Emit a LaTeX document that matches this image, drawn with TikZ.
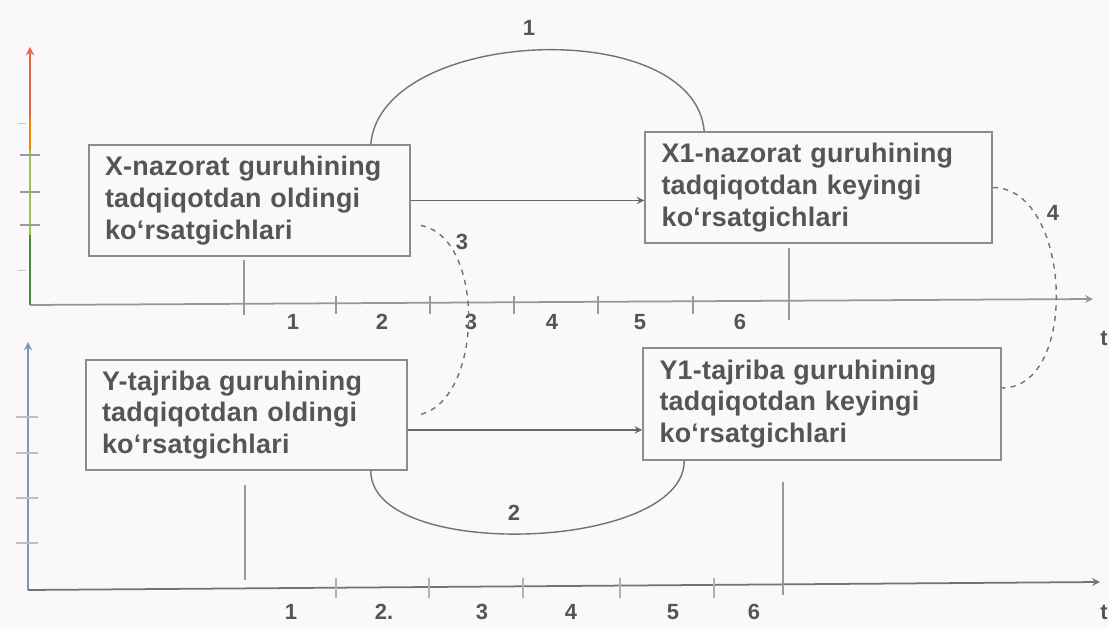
\documentclass[tikz,border=0pt]{standalone}
\usepackage{fontspec}
\setmainfont{Liberation Sans}
\newfontfamily\boxfont[LetterSpace=1]{Liberation Sans}
\definecolor{paper}{HTML}{FAF8FA}
\definecolor{ink}{HTML}{555555}
\definecolor{frame}{HTML}{8C8C8C}
\definecolor{axisup}{HTML}{8E9C92}
\definecolor{axislow}{HTML}{7F96B0}

\begin{document}
\begin{tikzpicture}[x=0.02cm,y=-0.02cm,>=stealth,
    box/.style={draw=frame,line width=0.9pt,inner xsep=0.32cm,align=left,text=ink,
      font=\boxfont\bfseries\fontsize{15.3}{18}\selectfont},
    lbl/.style={text=ink,font=\bfseries\fontsize{12.5}{14}\selectfont},
    arc/.style={black!55,line width=0.8pt},
    tick/.style={black!40,line width=0.8pt}]
\useasboundingbox[fill=paper] (0,0) rectangle (1109,628);

% axes
\coordinate (o1) at (30,305);
\coordinate (o2) at (28,590);
\draw[->,axisup,line width=1pt] (o1) -- (1093,299);
\draw[line width=1.1pt,black!40!green!50!gray] (o1) -- (30,235);
\draw[line width=1.1pt,yellow!60!green!70!gray] (30,235) -- (30,150);
\draw[line width=1.1pt,orange!80!brown] (30,150) -- (30,118);
\draw[->,line width=1.1pt,red!50!brown!80] (30,118) -- (30,47);
\draw[->,axislow,line width=1.1pt] (o2) -- (28,342);
\draw[->,black!55,line width=1pt] (o2) -- (1100,582);

% ticks
\foreach \y in {155,192,225}
  \draw[tick] (20,\y) -- (40,\y);
\foreach \y in {123,270}
  \draw[black!20] (18,\y) -- (26,\y);
\foreach \y in {417,453,498,543}
  \draw[black!25,line width=0.8pt] (16,\y) -- (38,\y);
\foreach \x in {336,430,514,598,693}
  \draw[tick] (\x,296) -- (\x,314);
\foreach \x in {336,429,523,620,714}
  \draw[black!30,line width=0.7pt] (\x,578) -- (\x,598);
\draw[tick] (244,260) -- (244,315);
\draw[tick] (789,248) -- (789,320);
\draw[tick] (245,485) -- (245,580);
\draw[tick] (783,482) -- (783,595);

\foreach \x/\n [count=\i] in {293/1,382/2,471/3,552/4,640/5,740/6}
  \node[lbl] (u\i) at (\x,322) {\n};
\foreach \x/\n [count=\i] in {291/1,384/2.,482/3,571/4,673/5,754/6}
  \node[lbl] (d\i) at (\x,612) {\n};
\node[lbl] (tu) at (1104,338) {t};
\node[lbl] (td) at (1104,612) {t};

% boxes
\node[box,minimum width=6.42cm,minimum height=2.22cm,text width=5.78cm] (X) at (249.5,200.5)
  {X-nazorat guruhining\\tadqiqotdan oldingi\\ko‘rsatgichlari};
\node[box,minimum width=6.94cm,minimum height=2.22cm,text width=6.28cm] (X1) at (818.5,187.5)
  {X1-nazorat guruhining\\tadqiqotdan keyingi\\ko‘rsatgichlari};
\node[box,minimum width=6.42cm,minimum height=2.2cm,text width=5.78cm] (Y) at (246.5,415)
  {Y-tajriba guruhining\\tadqiqotdan oldingi\\ko‘rsatgichlari};
\node[box,minimum width=7.16cm,minimum height=2.24cm,text width=6.5cm] (Y1) at (822,404)
  {Y1-tajriba guruhining\\tadqiqotdan keyingi\\ko‘rsatgichlari};

% links
\coordinate (yout) at ([yshift=-0.3cm]Y.east);
\draw[->,black!60,line width=0.9pt] (X.east) -- (X.east -| X1.west);
\draw[->,black!60,line width=0.9pt] (yout) -- (yout -| Y1.west);
\draw[arc] ([xshift=-0.8cm]X.north east) to[out=85,in=95,looseness=0.9] ([xshift=1.2cm]X1.north west);
\draw[arc,dashed] ([shift={(0.2cm,-0.5cm)}]X.east) to[out=-10,in=10,looseness=0.9] ([xshift=0.2cm]Y.east);
\draw[arc,dashed] (X1.east) to[out=0,in=0,looseness=1] ([yshift=0.32cm]Y1.east);
\draw[arc] ([xshift=-0.74cm]Y.south east) to[out=-90,in=-90,looseness=0.74] ([xshift=0.84cm]Y1.south west);

\node[lbl] (n1) at (529,28) {1};
\node[lbl] (n3) at (462,242) {3};
\node[lbl] (n4) at (1053,213) {4};
\node[lbl] (n2) at (514,513) {2};
\end{tikzpicture}
\end{document}
